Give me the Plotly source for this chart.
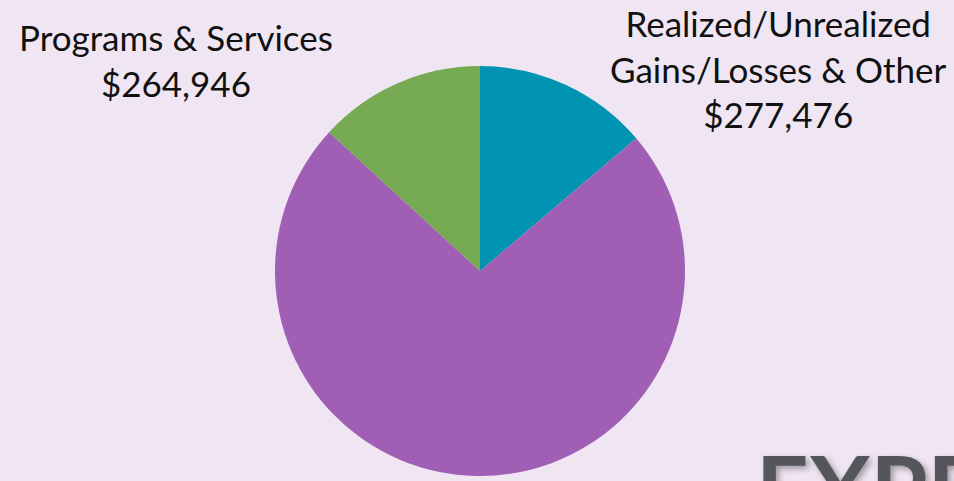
import plotly.graph_objects as go

categories = ["Realized/Unrealized<br>Gains/Losses & Other", "Other Revenue", "Programs & Services"]
values = [277476, 1470600, 264946]
colors = ["#0093b2", "#a05eb5", "#75aa52"]
show_label = [True, False, True]

W, H = 954, 481
bg = "#f0e6f3"

fig = go.Figure(go.Pie(
    labels=categories,
    values=values,
    sort=False,
    direction="clockwise",
    rotation=0,
    marker=dict(colors=colors, line=dict(width=0)),
    textinfo="none",
    hoverinfo="label+value",
    showlegend=False,
    domain=dict(x=[(480 - 205) / W, (480 + 205) / W], y=[1 - 476 / H, 1 - 66 / H]),
))

font = dict(family="Lato, Noto Sans, sans-serif", size=35, color="#111111")
label_pos = {0: (778 / W, 1 - 0 / H), 2: (176 / W, 1 - 14 / H)}
for i, (cat, val) in enumerate(zip(categories, values)):
    if not show_label[i]:
        continue
    x, y = label_pos[i]
    fig.add_annotation(
        x=x, y=y, xref="paper", yref="paper",
        text=f"{cat}<br>${val:,}",
        showarrow=False, xanchor="center", yanchor="top",
        align="center", font=font,
    )

fig.add_annotation(
    x=754 / W, y=1 - 430 / H, xref="paper", yref="paper",
    text="<b>EXPENSES</b>", showarrow=False, xanchor="left", yanchor="top",
    font=dict(family="Lato, Noto Sans, sans-serif", size=92, color="#55565b",
              shadow="3px 3px 6px rgba(0,0,0,0.35)"),
)

fig.update_layout(
    width=W, height=H,
    margin=dict(l=0, r=0, t=0, b=0),
    paper_bgcolor=bg, plot_bgcolor=bg,
)

fig.write_html("out.html", config={"displayModeBar": False},
               post_script="document.body.style.margin='0';document.body.style.overflow='hidden';")
